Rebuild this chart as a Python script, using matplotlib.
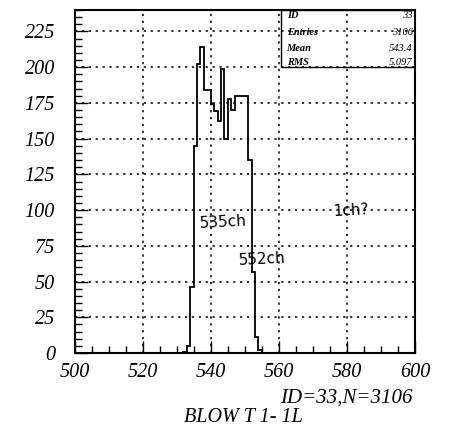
import numpy as np
import matplotlib
matplotlib.use("Agg")
import matplotlib.pyplot as plt
from matplotlib.patches import Rectangle
from matplotlib.ticker import MultipleLocator

# ---- data ----
bin_edges = list(range(532, 556))          # 1-channel bins, 532 .. 555
counts = [1, 5, 46, 145, 202, 214, 184, 184, 174, 169, 162, 199,
          150, 178, 170, 180, 180, 180, 180, 135, 57, 11, 2]
x_ticks = [500, 520, 540, 560, 580, 600]
y_ticks = [0, 25, 50, 75, 100, 125, 150, 175, 200, 225]
stat_labels = ["ID", "Entries", "Mean", "RMS"]
stat_values = ["33", "3106", "543.4", "5.097"]
caption_1 = "ID=33,N=3106"
caption_2 = "BLOW T 1- 1L"
notes = ["535ch", "552ch", "1ch?"]

SERIF = ["Liberation Serif", "DejaVu Serif"]

fig = plt.figure(figsize=(4.5, 4.33), dpi=100)
ax = fig.add_axes([74.5 / 450, 1 - 353 / 433, (415 - 74.5) / 450, (353 - 10) / 433])

ax.stairs(counts, bin_edges, color="black", lw=1.3)

ax.set_xlim(500, 600)
ax.set_ylim(0, 240)
ax.set_xticks(x_ticks)
ax.set_yticks(y_ticks)
ax.xaxis.set_minor_locator(MultipleLocator(5))
ax.yaxis.set_minor_locator(MultipleLocator(5))
ax.tick_params(which="major", direction="in", length=9, width=1.0, top=False, right=False)
ax.tick_params(which="minor", direction="in", length=5, width=1.0, top=False, right=False)
ax.tick_params(axis="y", which="major", pad=14)
ax.tick_params(axis="x", which="major", pad=7)
for lab in ax.get_xticklabels() + ax.get_yticklabels():
    lab.set_family(SERIF)
    lab.set_style("italic")
    lab.set_fontsize(14.5)

ax.grid(True, which="major", color="black", linestyle=(0, (1.5, 3)), lw=1.1)
for s in ax.spines.values():
    s.set_linewidth(1.5)

# statistics box
bx0 = 560.6
ax.add_patch(Rectangle((bx0, 200), 600 - bx0, 40, fill=False, lw=1.0,
                       edgecolor="black", zorder=3))
row_y = [236, 224.5, 213, 203]
for lab, val, yy in zip(stat_labels, stat_values, row_y):
    ax.text(562.3, yy, lab, family=SERIF, style="italic", weight="bold",
            fontsize=7.5, va="center", ha="left")
    ax.text(599.4, yy, val, family=SERIF, style="italic",
            fontsize=7.5, va="center", ha="right")

# captions
fig.text(413 / 450, 1 - 398 / 433, caption_1, family=SERIF, style="italic",
         fontsize=15, ha="right", va="center")
fig.text(243 / 450, 1 - 418 / 433, caption_2, family=SERIF, style="italic",
         fontsize=14.5, ha="center", va="center")

# handwritten notes
note_pos = [(223 / 450, 1 - 222 / 433), (262 / 450, 1 - 259 / 433), (351 / 450, 1 - 211 / 433)]
for t, (fx, fy) in zip(notes, note_pos):
    fig.text(fx, fy, t, family="DejaVu Sans", fontsize=11,
             ha="center", va="center", color="black", rotation=3)

fig.savefig("out.png", dpi=100)
